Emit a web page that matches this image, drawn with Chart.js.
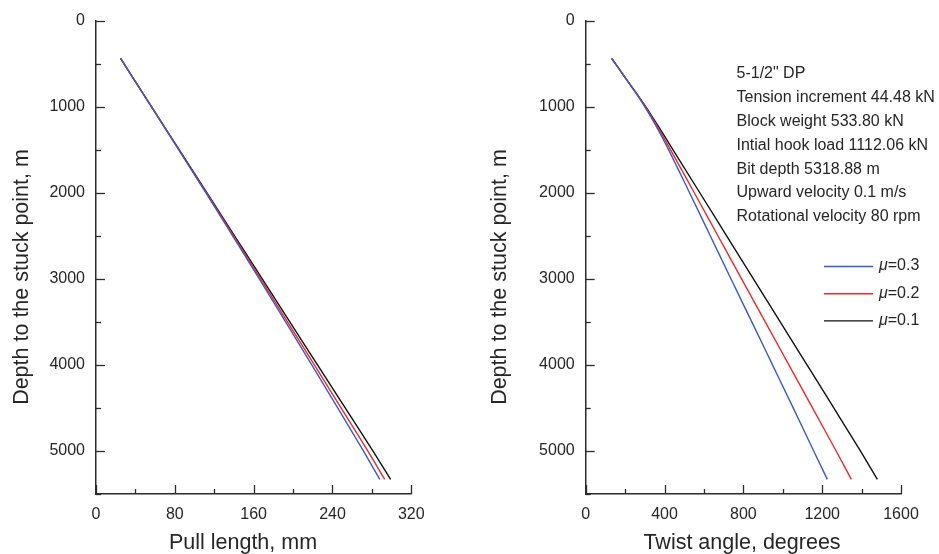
<!DOCTYPE html>
<html>
<head>
<meta charset="utf-8">
<script src="https://cdn.jsdelivr.net/npm/chart.js@4.4.1/dist/chart.umd.min.js"></script>
<style>
  html, body { margin: 0; padding: 0; background: #ffffff; }
  #wrap { position: relative; width: 939px; height: 554px; overflow: hidden; }
  .panel { position: absolute; top: 0; }
</style>
</head>
<body>
<div id="wrap">
  <div class="panel" style="left:0;width:470px;height:554px"><canvas id="pull" width="470" height="554"></canvas></div>
  <div class="panel" style="left:470px;width:469px;height:554px"><canvas id="twist" width="469" height="554"></canvas></div>
</div>
<script>
// ---- data ----
const frictionLabels = ['0.3', '0.2', '0.1'];

// Pull length (mm) against depth to the stuck point (m)
const pullDepth = [440, 1000, 1500, 2000, 2500, 3000, 3500, 4000, 4500, 5000, 5330];
const pullMu03  = [25, 56.2, 83.9, 111.4, 138.6, 165.7, 192.4, 219.0, 245.3, 271.4, 288];
const pullMu02  = [25, 56.2, 84.1, 111.9, 139.5, 167.1, 194.3, 221.6, 248.7, 275.8, 293];
const pullMu01  = [25, 56.3, 84.4, 112.5, 140.6, 168.7, 196.7, 224.8, 252.9, 281.0, 299];

// Twist angle (degrees) against depth to the stuck point (m)
const twistDepth = [440, 700, 950, 1200, 1420, 2000, 2500, 3000, 3500, 4000, 4500, 5000, 5330];
const twistMu03  = [132, 212, 286, 351, 403, 527, 632, 737, 843, 948, 1053, 1157, 1226];
const twistMu02  = [132, 212, 288, 356, 411, 551, 671, 791, 911, 1031, 1151, 1271, 1348];
const twistMu01  = [132, 212, 290, 361, 421, 579, 715, 851, 987, 1123, 1259, 1394, 1480];

// tick labels
const depthTickLabels = [0, 1000, 2000, 3000, 4000, 5000];
const pullTickLabels  = [0, 80, 160, 240, 320];
const twistTickLabels = [0, 400, 800, 1200, 1600];

const infoLines = [
  '5-1/2" DP',
  'Tension increment 44.48 kN',
  'Block weight 533.80 kN',
  'Intial hook load 1112.06 kN',
  'Bit depth 5318.88 m',
  'Upward velocity 0.1 m/s',
  'Rotational velocity 80 rpm'
];

// ---- styling ----
const FONT = "'Liberation Sans', Arial, Helvetica, sans-serif";
const AXIS = '#2b2b2b';
const TEXT = '#262626';
const seriesColors = ['#3a5bc7', '#ee2a2a', '#111111'];

function pairs(xs, ys) { return xs.map((x, i) => ({ x: x, y: ys[i] })); }

function makeDatasets(depth, series) {
  return series.map((vals, i) => ({
    label: '\u03bc=' + frictionLabels[i],
    data: pairs(vals, depth),
    borderColor: seriesColors[i],
    backgroundColor: seriesColors[i],
    borderWidth: 1.4,
    pointRadius: 0,
    fill: false,
    cubicInterpolationMode: 'monotone'
  }));
}

// inward tick marks, long on labelled values, short in between
const innerTicks = {
  id: 'innerTicks',
  afterDraw(chart, args, opts) {
    const ctx = chart.ctx, a = chart.chartArea;
    const xs = chart.scales.x, ys = chart.scales.y;
    ctx.save();
    ctx.strokeStyle = AXIS;
    ctx.lineWidth = 1.3;
    xs.ticks.forEach(t => {
      const px = Math.round(xs.getPixelForValue(t.value)) + 0.5;
      const len = opts.xMajor.includes(t.value) ? 9 : 5;
      ctx.beginPath(); ctx.moveTo(px, a.bottom); ctx.lineTo(px, a.bottom - len); ctx.stroke();
    });
    ys.ticks.forEach(t => {
      const py = Math.round(ys.getPixelForValue(t.value)) + 0.5;
      const len = depthTickLabels.includes(t.value) ? 9 : 5;
      ctx.beginPath(); ctx.moveTo(a.left, py); ctx.lineTo(a.left + len, py); ctx.stroke();
    });
    ctx.restore();
  }
};

// axis titles
const axisTitles = {
  id: 'axisTitles',
  afterDraw(chart, args, opts) {
    const ctx = chart.ctx;
    ctx.save();
    ctx.fillStyle = TEXT;
    ctx.font = '21.5px ' + FONT;
    ctx.textAlign = 'center';
    ctx.textBaseline = 'middle';
    ctx.fillText(opts.xTitle, opts.xTitleX, 543);
    ctx.translate(opts.yTitleX, 277);
    ctx.rotate(-Math.PI / 2);
    ctx.fillText('Depth to the stuck point, m', 0, 0);
    ctx.restore();
  }
};

// parameter block and line legend in the twist panel
const notes = {
  id: 'notes',
  afterDraw(chart) {
    const ctx = chart.ctx;
    ctx.save();
    ctx.fillStyle = TEXT;
    ctx.font = '16px ' + FONT;
    ctx.textAlign = 'left';
    ctx.textBaseline = 'middle';
    infoLines.forEach((s, i) => ctx.fillText(s, 266.5, 73.5 + i * 23.9));

    chart.data.datasets.forEach((ds, i) => {
      const y = 266 + i * 27.2;
      ctx.strokeStyle = ds.borderColor;
      ctx.lineWidth = 1.4;
      ctx.beginPath(); ctx.moveTo(354, y + 0.5); ctx.lineTo(403, y + 0.5); ctx.stroke();
      ctx.font = 'italic 16px ' + FONT;
      ctx.fillText('\u03bc', 409, y);
      const w = ctx.measureText('\u03bc').width;
      ctx.font = '16px ' + FONT;
      ctx.fillText('=' + frictionLabels[i], 409 + w, y);
    });
    ctx.restore();
  }
};

function makeChart(id, datasets, xMax, xStep, xMajor, yAxisWidth, rightPad, xTitle, xTitleX, yTitleX) {
  return new Chart(document.getElementById(id), {
    type: 'line',
    data: { datasets: datasets },
    options: {
      responsive: false,
      animation: false,
      layout: { padding: { left: 0, top: 17, right: rightPad, bottom: 0 } },
      plugins: {
        legend: { display: false },
        tooltip: { enabled: false },
        innerTicks: { xMajor: xMajor },
        axisTitles: { xTitle: xTitle, xTitleX: xTitleX, yTitleX: yTitleX }
      },
      scales: {
        x: {
          type: 'linear',
          min: 0, max: xMax,
          grid: { display: false, drawTicks: false },
          border: { display: true, color: AXIS, width: 1.5 },
          ticks: {
            stepSize: xStep,
            padding: 11,
            maxRotation: 0,
            autoSkip: false,
            color: TEXT,
            font: { family: FONT, size: 16 },
            callback: v => xMajor.includes(v) ? String(v) : ''
          },
          afterFit: s => { s.height = 60; }
        },
        y: {
          type: 'linear',
          reverse: true,
          min: 0, max: 5500,
          grid: { display: false, drawTicks: false },
          border: { display: true, color: AXIS, width: 1.5 },
          ticks: {
            stepSize: 500,
            padding: 11,
            autoSkip: false,
            color: TEXT,
            font: { family: FONT, size: 16 },
            callback: v => depthTickLabels.includes(v) ? String(v) : ''
          },
          afterFit: s => { s.width = yAxisWidth; }
        }
      }
    },
    plugins: id === 'twist' ? [innerTicks, axisTitles, notes] : [innerTicks, axisTitles]
  });
}

makeChart('pull',
  makeDatasets(pullDepth, [pullMu03, pullMu02, pullMu01]),
  320, 40, pullTickLabels, 96, 58.7, 'Pull length, mm', 243, 22.5);

makeChart('twist',
  makeDatasets(twistDepth, [twistMu03, twistMu02, twistMu01]),
  1600, 200, twistTickLabels, 115.7, 38, 'Twist angle, degrees', 272, 30);
</script>
</body>
</html>
